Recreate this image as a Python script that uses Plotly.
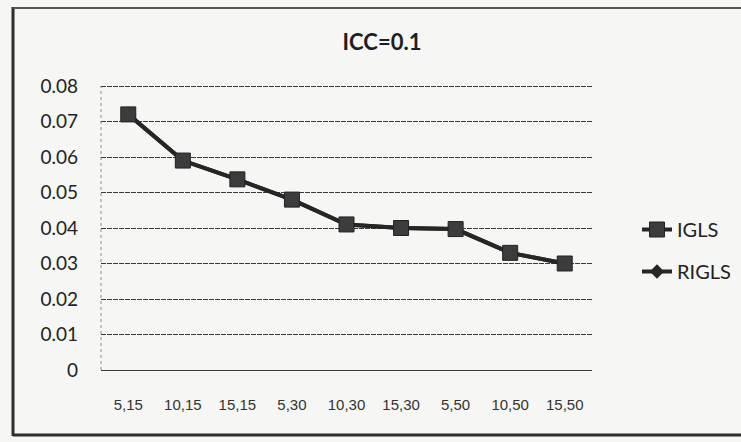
import plotly.graph_objects as go

# Sample-size combinations (level-1, level-2) and estimated values
categories = ["5,15", "10,15", "15,15", "5,30", "10,30", "15,30", "5,50", "10,50", "15,50"]
igls = [0.072, 0.059, 0.0537, 0.048, 0.041, 0.040, 0.0397, 0.033, 0.030]
rigls = [0.072, 0.059, 0.0537, 0.048, 0.041, 0.040, 0.0397, 0.033, 0.030]
y_ticks = [0, 0.01, 0.02, 0.03, 0.04, 0.05, 0.06, 0.07, 0.08]
y_tick_text = ["0", "0.01", "0.02", "0.03", "0.04", "0.05", "0.06", "0.07", "0.08"]

W, H = 741, 442
L, R, T, B = 101, 592, 84, 370  # plot area in pixels (top 2px above the 0.08 line)
y_top = 0.08 * (B - T) / (B - 86)


def px(x):
    return (x - L) / (R - L)


def py(y):
    return (B - y) / (B - T)


fig = go.Figure()

fig.add_trace(go.Scatter(
    x=categories, y=rigls, name="RIGLS", mode="lines+markers",
    line=dict(color="#262626", width=4),
    marker=dict(symbol="diamond", size=11, color="#262626"),
    legendgroup="b", legendrank=2,
))
fig.add_trace(go.Scatter(
    x=categories, y=igls, name="IGLS", mode="lines+markers",
    line=dict(color="#262626", width=4),
    marker=dict(symbol="square", size=15, color="#3c3c3c",
                line=dict(color="#222", width=1)),
    legendgroup="a", legendrank=1,
))

frame = "#2e2e2e"
grid = "#3a3a3a"
shapes = [
    dict(type="line", xref="paper", yref="paper", x0=px(13), x1=px(13), y0=py(7), y1=py(436),
         line=dict(color=frame, width=3)),
    dict(type="line", xref="paper", yref="paper", x0=px(13), x1=px(745), y0=py(8), y1=py(8),
         line=dict(color="#555", width=2)),
    dict(type="line", xref="paper", yref="paper", x0=px(13), x1=px(745), y0=py(435), y1=py(435),
         line=dict(color=frame, width=3)),
    dict(type="line", xref="paper", yref="paper", x0=0, x1=0, y0=0, y1=py(86),
         line=dict(color="#8a8a8a", width=1, dash="dot"), layer="below"),
]

fig.update_layout(
    width=W, height=H,
    margin=dict(l=L, r=W - R, t=T, b=H - B),
    paper_bgcolor="#f6f6f4",
    plot_bgcolor="#f6f6f4",
    title=dict(text="<b>ICC=0.1</b>", xref="container", yref="container",
               x=382 / W, xanchor="center", y=1 - 42 / H, yanchor="middle",
               font=dict(family="Lato, Open Sans, sans-serif", size=22, color="#1e1e1e")),
    showlegend=True,
    legend=dict(xref="container", yref="container", x=637 / W, xanchor="left",
                y=1 - 210 / H, yanchor="top",
                bgcolor="rgba(0,0,0,0)", tracegroupgap=13,
                font=dict(family="Lato, Open Sans, sans-serif", size=20, color="#222")),
    shapes=shapes,
    font=dict(family="Lato, sans-serif", color="#222"),
)

fig.update_xaxes(
    type="category", range=[-0.5, len(categories) - 0.5],
    showgrid=False, showline=False, zeroline=False, ticks="",
    ticklabelstandoff=24,
    tickfont=dict(family="Liberation Sans, Arial, sans-serif", size=15, color="#333"),
)
fig.update_yaxes(
    range=[0, y_top], tickvals=y_ticks, ticktext=y_tick_text,
    showgrid=True, gridcolor=grid, gridwidth=1, griddash="5px,1px",
    zeroline=True, zerolinecolor=grid, zerolinewidth=1,
    showline=False, ticks="", ticklabelstandoff=22,
    tickfont=dict(family="Lato, sans-serif", size=19, color="#222"),
)

fig.write_html("out.html")
